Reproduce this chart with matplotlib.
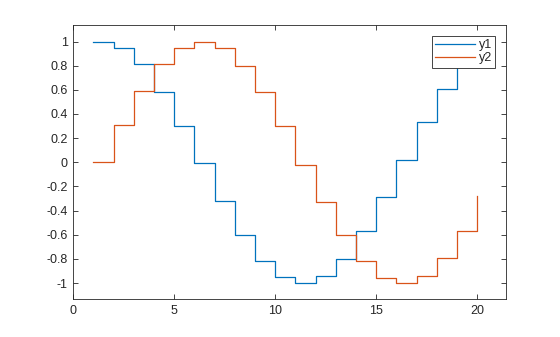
import matplotlib
matplotlib.use("Agg")
import matplotlib.pyplot as plt

x = list(range(1, 21))
y1 = [1.00, 0.95, 0.81, 0.58, 0.30, -0.01, -0.32, -0.60, -0.82, -0.95,
      -1.00, -0.94, -0.80, -0.57, -0.29, 0.02, 0.33, 0.61, 0.82, 0.96]
y2 = [0.00, 0.31, 0.59, 0.81, 0.95, 1.00, 0.95, 0.80, 0.58, 0.30,
      -0.02, -0.33, -0.60, -0.82, -0.96, -1.00, -0.94, -0.79, -0.57, -0.28]
labels = ["y1", "y2"]
xticks = [0, 5, 10, 15, 20]
yticks = [-1, -0.8, -0.6, -0.4, -0.2, 0, 0.2, 0.4, 0.6, 0.8, 1]
yticklabels = ["-1", "-0.8", "-0.6", "-0.4", "-0.2", "0", "0.2", "0.4", "0.6", "0.8", "1"]

plt.rcParams['font.family'] = ['Liberation Sans', 'DejaVu Sans']
W, H = 560, 337
fig = plt.figure(figsize=(W / 100, H / 100), dpi=100)
L, R, T, B = 73.3, 506, 25, 299.3
ax = fig.add_axes([L / W, 1 - B / H, (R - L) / W, (B - T) / H])

ax.plot(x, y1, drawstyle='steps-post', color='#0072BD', lw=0.9, label=labels[0])
ax.plot(x, y2, drawstyle='steps-post', color='#D95319', lw=0.9, label=labels[1])

ax.set_xlim(0, 21.43)
ax.set_ylim(-1.135, 1.137)
ax.set_xticks(xticks)
ax.set_yticks(yticks)
ax.set_yticklabels(yticklabels)
dark = '#262626'
ax.tick_params(direction='in', length=3.5, width=0.6, colors=dark, labelsize=9,
               top=True, right=True, labeltop=False, labelright=False, pad=4)
for s in ax.spines.values():
    s.set_color(dark)
    s.set_linewidth(0.6)

leg = ax.legend(loc='upper right', bbox_to_anchor=(495.3 / W, 1 - 36 / H),
                bbox_transform=fig.transFigure, borderaxespad=0, fancybox=False,
                framealpha=1, edgecolor=dark, fontsize=9, handlelength=3.2,
                handletextpad=0.3, labelspacing=0.1, borderpad=0.25)
leg.get_frame().set_linewidth(0.6)
for t in leg.get_texts():
    t.set_color(dark)

fig.savefig("out.png", dpi=100)
